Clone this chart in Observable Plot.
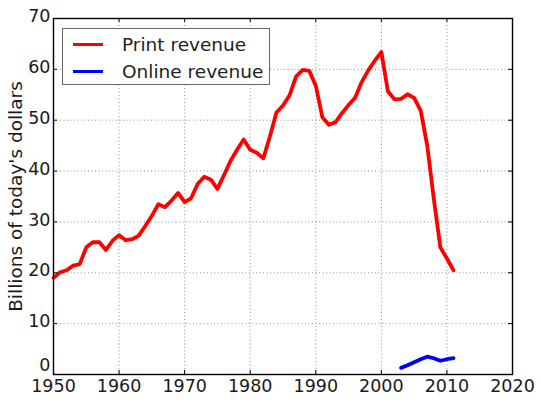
<!DOCTYPE html>
<html>
<head>
<meta charset="utf-8">
<script src="https://cdn.jsdelivr.net/npm/d3@7"></script>
<script src="https://cdn.jsdelivr.net/npm/@observablehq/plot@0.6"></script>
<style>
  body { margin: 0; background: #fff; }
  #chart { position: relative; width: 540px; height: 402px; }
  .legend { position: absolute; left: 62px; top: 28px; width: 206px; height: 55px;
    border: 1px solid #666; background: #fff; font: 18.5px "DejaVu Sans"; color: #222; }
  .row { position: absolute; left: 10px; display: flex; align-items: center; height: 22px; }
  .swatch { width: 30px; height: 0; border-top: 3.8px solid; margin-right: 19px; }
</style>
</head>
<body>
<div id="chart"></div>
<script>
// print revenue, billions of today's dollars
const printYears = [1950, 1951, 1952, 1953, 1954, 1955, 1956, 1957, 1958, 1959,
  1960, 1961, 1962, 1963, 1964, 1965, 1966, 1967, 1968, 1969,
  1970, 1971, 1972, 1973, 1974, 1975, 1976, 1977, 1978, 1979,
  1980, 1981, 1982, 1983, 1984, 1985, 1986, 1987, 1988, 1989,
  1990, 1991, 1992, 1993, 1994, 1995, 1996, 1997, 1998, 1999,
  2000, 2001, 2002, 2003, 2004, 2005, 2006, 2007, 2008, 2009,
  2010, 2011]
const printRevenue = [19.0, 20.1, 20.5, 21.4, 21.7, 25.0, 26.0, 26.0, 24.5, 26.3,
  27.4, 26.4, 26.6, 27.3, 29.2, 31.2, 33.5, 32.9, 34.2, 35.7,
  33.9, 34.7, 37.5, 38.9, 38.3, 36.5, 39.2, 42.0, 44.2, 46.2,
  44.2, 43.6, 42.5, 46.8, 51.5, 52.9, 54.9, 58.6, 59.9, 59.7,
  56.8, 50.6, 49.1, 49.6, 51.4, 53.0, 54.4, 57.5, 59.8, 61.7,
  63.4, 55.7, 54.1, 54.2, 55.1, 54.4, 51.9, 45.0, 34.5, 25.0,
  22.8, 20.5]

const onlineYears = [2003, 2004, 2005, 2006, 2007, 2008, 2009, 2010, 2011]
const onlineRevenue = [1.3, 1.8, 2.4, 3.0, 3.5, 3.2, 2.7, 3.0, 3.2]

const xTicks = [1950, 1960, 1970, 1980, 1990, 2000, 2010, 2020]
const yTicks = [0, 10, 20, 30, 40, 50, 60, 70]
const xGrid = [1960, 1970, 1980, 1990, 2000, 2010]
const yGrid = [10, 20, 30, 40, 50, 60]
const yLabel = "Billions of today's dollars"

const printData = printYears.map((year, i) => ({year, value: printRevenue[i]}))
const onlineData = onlineYears.map((year, i) => ({year, value: onlineRevenue[i]}))

const gridStyle = {stroke: '#777', strokeOpacity: 1, strokeWidth: 0.8, strokeDasharray: '1,2.5'}

let chart = Plot.plot({
  width: 540,
  height: 402,
  marginLeft: 53,
  marginRight: 28,
  marginTop: 18,
  marginBottom: 28,
  style: {fontFamily: '"DejaVu Sans"', fontSize: '17.5px', color: '#1a1a1a', background: '#fff'},
  x: {domain: [1950, 2020]},
  y: {domain: [0, 70]},
  marks: [
    Plot.gridX(xGrid, gridStyle),
    Plot.gridY(yGrid, gridStyle),
    Plot.line(printData, {x: 'year', y: 'value', stroke: '#ff0000', strokeWidth: 3.8, strokeLinejoin: 'round'}),
    Plot.line(onlineData, {x: 'year', y: 'value', stroke: '#0000ff', strokeWidth: 3.8, strokeLinejoin: 'round'}),
    // matplotlib-style inward ticks on all four sides
    Plot.tickX(xTicks, {x: d => d, insetTop: 352, stroke: '#000'}),
    Plot.tickX(xTicks, {x: d => d, insetBottom: 352, stroke: '#000'}),
    Plot.tickY(yTicks, {y: d => d, insetRight: 455, stroke: '#000'}),
    Plot.tickY(yTicks, {y: d => d, insetLeft: 455, stroke: '#000'}),
    Plot.axisX(xTicks, {tickSize: 0, tickPadding: 5, tickFormat: 'd', label: null}),
    Plot.axisY(yTicks.filter(v => v > 0), {tickSize: 0, tickPadding: 3, dy: -2, label: null}),
    Plot.axisY([0], {tickSize: 0, tickPadding: 3, dy: -9, label: null}),
    Plot.text([yLabel], {frameAnchor: 'left', textAnchor: 'middle', rotate: -90, dx: -37,
      fontSize: 18.5, text: d => d}),
    Plot.frame({stroke: '#000', strokeWidth: 1.4})
  ]
})

d3.select('#chart').append(() => chart)

// legend box inside the axes, upper left
const legend = d3.select('#chart').append('div').attr('class', 'legend')
const items = [['Print revenue', '#ff0000'], ['Online revenue', '#0000ff']]
items.forEach(([name, color], i) => {
  const row = legend.append('div').attr('class', 'row').style('top', (4 + i * 27) + 'px')
  row.append('span').attr('class', 'swatch').style('border-color', color)
  row.append('span').text(name)
})
</script>
</body>
</html>
